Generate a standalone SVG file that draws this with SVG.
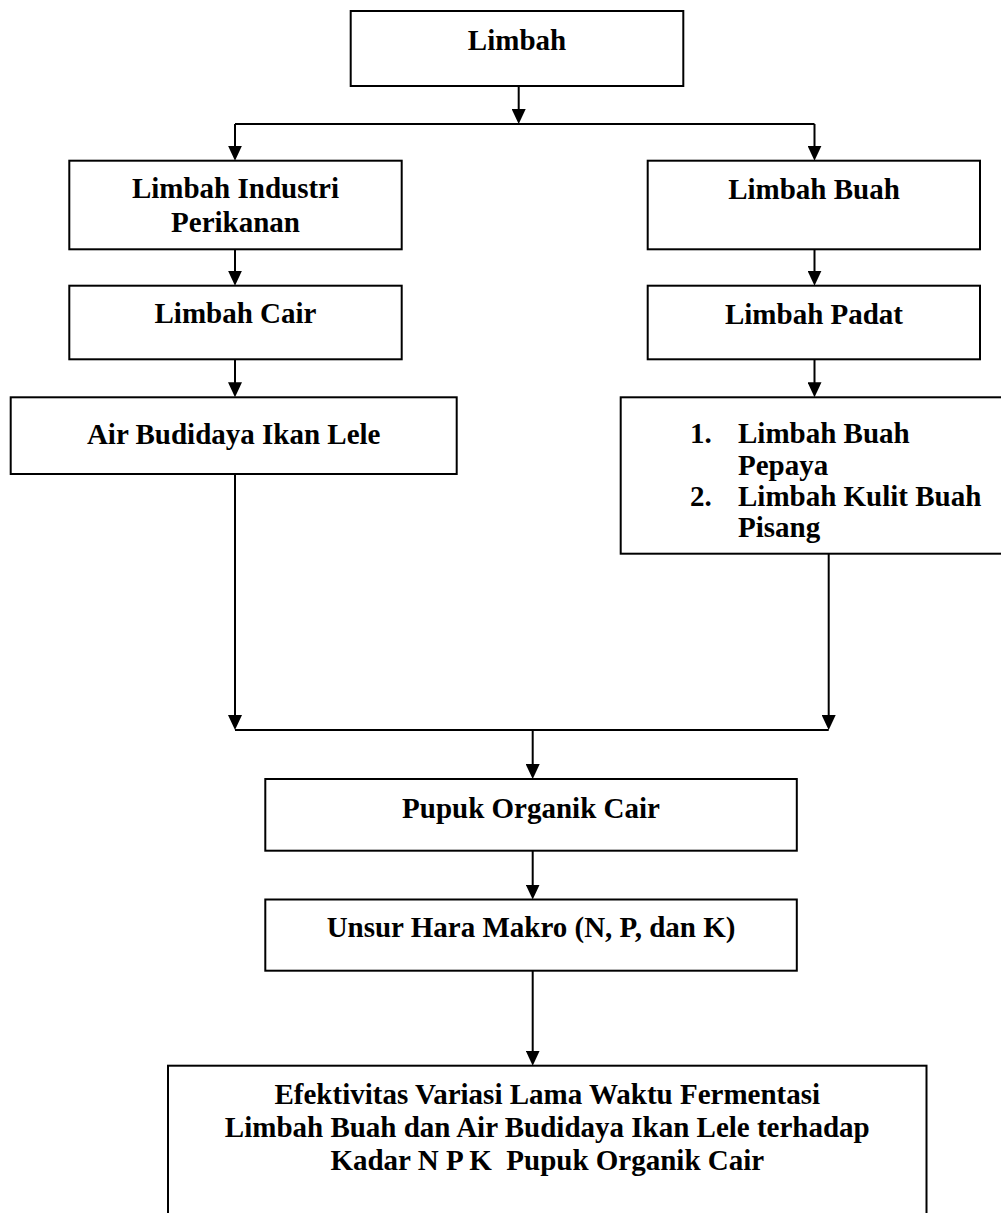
<svg xmlns="http://www.w3.org/2000/svg" width="1001" height="1213" viewBox="0 0 1001 1213">
<style>
.box{fill:#fff;stroke:#000;stroke-width:2}
.t{font-family:"Liberation Serif","Times New Roman",serif;font-weight:bold;font-size:29px;fill:#000;text-anchor:middle}
.tl{font-family:"Liberation Serif","Times New Roman",serif;font-weight:bold;font-size:29px;fill:#000}
.c{fill:none;stroke:#000;stroke-width:2}
</style>
<defs>
<marker id="ah" markerUnits="userSpaceOnUse" markerWidth="15" markerHeight="14" refX="11" refY="7" orient="auto">
<path d="M0,0 L15,7 L0,14 z" fill="#000"/>
</marker>
</defs>
<rect width="1001" height="1213" fill="#fff"/>
<g id="connectors">
<line class="c" x1="518.7" y1="87" x2="518.7" y2="120" marker-end="url(#ah)"/>
<line class="c" x1="235" y1="124" x2="814.5" y2="124"/>
<line class="c" x1="235" y1="124" x2="235" y2="156.7" marker-end="url(#ah)"/>
<line class="c" x1="814.5" y1="124" x2="814.5" y2="156.7" marker-end="url(#ah)"/>
<line class="c" x1="235" y1="249.5" x2="235" y2="281.7" marker-end="url(#ah)"/>
<line class="c" x1="814.5" y1="249.5" x2="814.5" y2="281.7" marker-end="url(#ah)"/>
<line class="c" x1="235" y1="359.5" x2="235" y2="393.3" marker-end="url(#ah)"/>
<line class="c" x1="814.5" y1="359.5" x2="814.5" y2="393.3" marker-end="url(#ah)"/>
<line class="c" x1="235" y1="474" x2="235" y2="726" marker-end="url(#ah)"/>
<line class="c" x1="828.7" y1="554" x2="828.7" y2="726" marker-end="url(#ah)"/>
<line class="c" x1="235" y1="730" x2="828.7" y2="730"/>
<line class="c" x1="532.7" y1="730" x2="532.7" y2="775" marker-end="url(#ah)"/>
<line class="c" x1="532.7" y1="851" x2="532.7" y2="895.5" marker-end="url(#ah)"/>
<line class="c" x1="532.7" y1="971" x2="532.7" y2="1061.7" marker-end="url(#ah)"/>
</g>
<g id="limbah">
<rect class="box" x="350.7" y="11" width="332.6" height="75"/>
<text class="t" x="517" y="50">Limbah</text>
</g>
<g id="limbah-industri">
<rect class="box" x="69.3" y="160.7" width="332.4" height="88.6"/>
<text class="t" x="235.5" y="198.3">Limbah Industri</text>
<text class="t" x="235.5" y="232.3">Perikanan</text>
</g>
<g id="limbah-buah">
<rect class="box" x="647.7" y="160.7" width="332.3" height="88.6"/>
<text class="t" x="814" y="199.3">Limbah Buah</text>
</g>
<g id="limbah-cair">
<rect class="box" x="69.3" y="285.7" width="332.4" height="73.6"/>
<text class="t" x="235.5" y="323">Limbah Cair</text>
</g>
<g id="limbah-padat">
<rect class="box" x="647.7" y="285.7" width="332.3" height="73.6"/>
<text class="t" x="814" y="324">Limbah Padat</text>
</g>
<g id="air-budidaya">
<rect class="box" x="10.7" y="397.3" width="446" height="76.7"/>
<text class="t" x="233.7" y="444.3">Air Budidaya Ikan Lele</text>
</g>
<g id="limbah-buah-list">
<rect class="box" x="620.7" y="397.3" width="400" height="156.4"/>
<text class="tl" x="690" y="443">1.</text>
<text class="tl" x="738" y="443">Limbah Buah</text>
<text class="tl" x="738" y="475">Pepaya</text>
<text class="tl" x="690" y="506">2.</text>
<text class="tl" x="738" y="506">Limbah Kulit Buah</text>
<text class="tl" x="738" y="537">Pisang</text>
</g>
<g id="pupuk">
<rect class="box" x="265.3" y="779" width="531.5" height="71.7"/>
<text class="t" x="531" y="818.3">Pupuk Organik Cair</text>
</g>
<g id="unsur-hara">
<rect class="box" x="265.3" y="899.5" width="531.5" height="71.2"/>
<text class="t" x="531" y="937">Unsur Hara Makro (N, P, dan K)</text>
</g>
<g id="efektivitas">
<rect class="box" x="168" y="1065.7" width="758.5" height="200"/>
<text class="t" x="547.3" y="1104">Efektivitas Variasi Lama Waktu Fermentasi</text>
<text class="t" x="547.3" y="1137">Limbah Buah dan Air Budidaya Ikan Lele terhadap</text>
<text class="t" x="547.3" y="1170" xml:space="preserve">Kadar N P K  Pupuk Organik Cair</text>
</g>
</svg>
